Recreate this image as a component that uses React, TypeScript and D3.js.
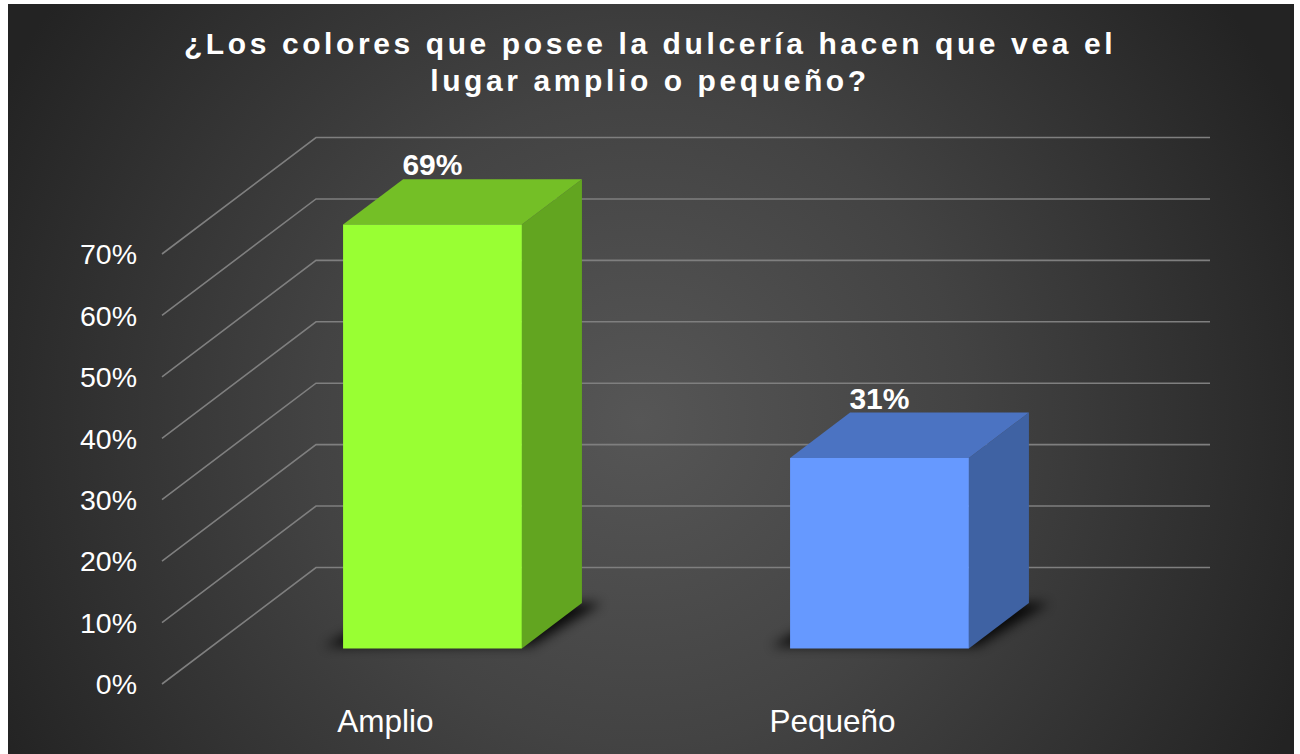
import React from "react";
import * as d3 from "d3";

const title1 = "¿Los colores que posee la dulcería hacen que vea el";
const title2 = "lugar amplio o pequeño?";
const categories = ["Amplio", "Pequeño"];
const values = [69, 31];
const valueLabels = ["69%", "31%"];
const ticks = [0, 10, 20, 30, 40, 50, 60, 70];

const W = 1300;
const H = 754;

const faceColors = [
  { front: "#99FF33", top: "#74BF26", side: "#62A520" },
  { front: "#6699FF", top: "#4B73C2", side: "#3F62A3" },
];

export default function App() {
  // 3D projection parameters
  const frontLeft = 162;
  const frontRight = 1056;
  const DX = 154;
  const DY = -116.5;
  const f0 = 0.305;
  const f1 = 0.695;

  const y = d3.scaleLinear().domain([0, 70]).range([684, 254]);
  const x = d3
    .scaleBand<string>()
    .domain(categories)
    .range([frontLeft, frontRight])
    .paddingInner(0.6)
    .paddingOuter(0.3);

  const P = (px: number, v: number, f: number): [number, number] => [
    px + f * DX,
    y(v) + f * DY,
  ];
  const poly = (pts: [number, number][]) =>
    pts.map((p) => `${p[0].toFixed(2)},${p[1].toFixed(2)}`).join(" ");

  const font = "'Liberation Sans', Arial, Helvetica, sans-serif";

  return (
    <svg
      width={W}
      height={H}
      style={{ position: "fixed", left: 0, top: 0, background: "#ffffff" }}
    >
      <defs>
        <radialGradient
          id="bg"
          gradientUnits="userSpaceOnUse"
          cx={640}
          cy={420}
          r={720}
        >
          <stop offset="0" stopColor="#565656" />
          <stop offset="0.45" stopColor="#434343" />
          <stop offset="1" stopColor="#232323" />
        </radialGradient>
        <filter id="shadow" x="-30%" y="-30%" width="160%" height="160%">
          <feGaussianBlur stdDeviation="6" />
        </filter>
      </defs>
      <rect x={8} y={4} width={1286} height={H - 4} fill="url(#bg)" />

      {/* grid: side wall diagonals + back wall lines */}
      {ticks.map((t) => {
        const a = P(frontLeft, t, 0);
        const b = P(frontLeft, t, 1);
        const c = P(frontRight, t, 1);
        return (
          <polyline
            key={"g" + t}
            points={poly([a, b, c])}
            fill="none"
            stroke="#7f7f7f"
            strokeWidth={1.6}
          />
        );
      })}

      {/* y tick labels */}
      {ticks.map((t) => (
        <text
          key={"t" + t}
          x={137}
          y={y(t)}
          dy="0.36em"
          textAnchor="end"
          fill="#ffffff"
          fontFamily={font}
          fontSize={28.5}
        >
          {t}%
        </text>
      ))}

      {/* bars */}
      {categories.map((cat, i) => {
        const xl = x(cat)!;
        const xr = xl + x.bandwidth();
        const v = values[i];
        const col = faceColors[i];
        const shadowPts = [
          P(xl - 22, 0, f0 + 0.02),
          P(xr + 6, 0, f0 + 0.02),
          P(xr + 20, 0, f1),
          P(xl, 0, f1),
        ];
        const front = [P(xl, 0, f0), P(xr, 0, f0), P(xr, v, f0), P(xl, v, f0)];
        const side = [P(xr, 0, f0), P(xr, 0, f1), P(xr, v, f1), P(xr, v, f0)];
        const top = [P(xl, v, f0), P(xr, v, f0), P(xr, v, f1), P(xl, v, f1)];
        const labelX = (xl + xr) / 2 + f0 * DX;
        const labelY = P(xl, v, f1)[1] - 4;
        return (
          <g key={cat}>
            <polygon
              points={poly(shadowPts)}
              fill="#000000"
              opacity={0.85}
              filter="url(#shadow)"
            />
            <polygon points={poly(side)} fill={col.side} />
            <polygon points={poly(top)} fill={col.top} />
            <polygon points={poly(front)} fill={col.front} />
            <text
              x={labelX}
              y={labelY}
              textAnchor="middle"
              fill="#ffffff"
              fontFamily={font}
              fontWeight="bold"
              fontSize={30}
            >
              {valueLabels[i]}
            </text>
          </g>
        );
      })}

      {/* category labels */}
      {categories.map((cat) => (
        <text
          key={"c" + cat}
          x={x(cat)! + x.bandwidth() / 2}
          y={732}
          textAnchor="middle"
          fill="#ffffff"
          fontFamily={font}
          fontSize={31.5}
        >
          {cat}
        </text>
      ))}

      {/* title */}
      <text
        x={650}
        y={54}
        textAnchor="middle"
        fill="#ffffff"
        fontFamily={font}
        fontWeight="bold"
        fontSize={30}
        letterSpacing={3.6}
      >
        {title1}
      </text>
      <text
        x={650}
        y={90.5}
        textAnchor="middle"
        fill="#ffffff"
        fontFamily={font}
        fontWeight="bold"
        fontSize={30}
        letterSpacing={3.6}
      >
        {title2}
      </text>
    </svg>
  );
}
